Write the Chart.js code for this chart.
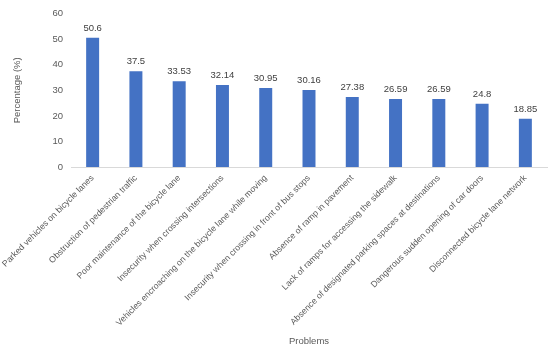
<!DOCTYPE html>
<html>
<head>
<meta charset="utf-8">
<script src="https://cdn.jsdelivr.net/npm/chart.js@4"></script>
<style>
  html, body { margin: 0; padding: 0; background: #ffffff; }
  #wrap { width: 550px; height: 351px; }
</style>
</head>
<body>
<div id="wrap"><canvas id="c" width="550" height="351"></canvas></div>
<script>
const categories = [
  'Parked vehicles on bicycle lanes',
  'Obstruction of pedestrian traffic',
  'Poor maintenance of the bicycle lane',
  'Insecurity when crossing intersections',
  'Vehicles encroaching on the bicycle lane while moving',
  'Insecurity when crossing in front of bus stops',
  'Absence of ramp in pavement',
  'Lack of ramps for accessing the sidewalk',
  'Absence of designated parking spaces at destinations',
  'Dangerous sudden opening of car doors',
  'Disconnected bicycle lane network'
];
const values = [50.6, 37.5, 33.53, 32.14, 30.95, 30.16, 27.38, 26.59, 26.59, 24.8, 18.85];
const valueLabels = ['50.6', '37.5', '33.53', '32.14', '30.95', '30.16', '27.38', '26.59', '26.59', '24.8', '18.85'];
const yMin = 0, yMax = 60, yStep = 10;
const yTitle = 'Percentage (%)';
const xTitle = 'Problems';

const FONT = '"Liberation Sans", Arial, sans-serif';

const valueLabelPlugin = {
  id: 'valueLabels',
  afterDatasetsDraw(chart) {
    const ctx = chart.ctx;
    const meta = chart.getDatasetMeta(0);
    ctx.save();
    ctx.font = '9.5px ' + FONT;
    ctx.fillStyle = '#404040';
    ctx.textAlign = 'center';
    ctx.textBaseline = 'alphabetic';
    meta.data.forEach((bar, i) => {
      ctx.fillText(valueLabels[i], bar.x, bar.y - 7);
    });
    ctx.restore();
  }
};

new Chart(document.getElementById('c'), {
  type: 'bar',
  data: {
    labels: categories,
    datasets: [{
      data: values,
      backgroundColor: '#4472C4',
      borderWidth: 0,
      categoryPercentage: 1.0,
      barPercentage: 0.3
    }]
  },
  options: {
    responsive: false,
    animation: false,
    devicePixelRatio: 1,
    layout: { padding: { top: 9, right: 3, bottom: 0, left: 0 } },
    plugins: {
      legend: { display: false },
      tooltip: { enabled: false }
    },
    scales: {
      x: {
        grid: { display: false, drawTicks: false },
        border: { display: true, color: '#d9d9d9', width: 1 },
        ticks: {
          color: '#595959',
          font: { family: FONT, size: 8.7 },
          minRotation: 45,
          maxRotation: 45,
          autoSkip: false,
          padding: 6
        },
        title: {
          display: true,
          text: xTitle,
          color: '#595959',
          font: { family: FONT, size: 9.5 },
          padding: { top: 0, bottom: 4 }
        },
        afterFit(scale) {
          scale.height = 184;
          scale.paddingLeft = 0;
          scale.paddingRight = 0;
        }
      },
      y: {
        min: yMin,
        max: yMax,
        grid: { display: false, drawTicks: false },
        border: { display: false },
        ticks: {
          stepSize: yStep,
          color: '#595959',
          font: { family: FONT, size: 9.5 },
          padding: 8
        },
        title: {
          display: true,
          text: yTitle,
          color: '#595959',
          font: { family: FONT, size: 9.5 },
          padding: { top: 12, bottom: 0 }
        },
        afterFit(scale) { scale.width = 71; }
      }
    }
  },
  plugins: [valueLabelPlugin]
});
</script>
</body>
</html>
